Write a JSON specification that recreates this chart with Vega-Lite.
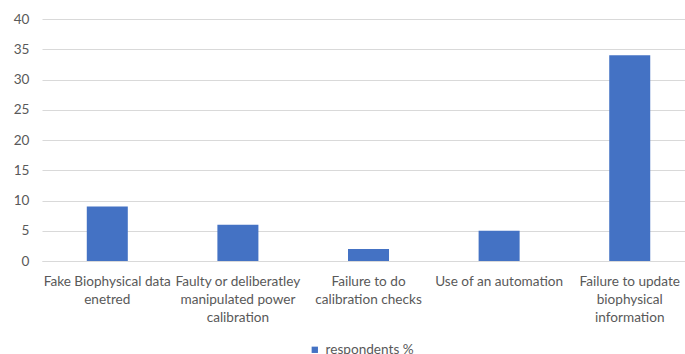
{
  "$schema": "https://vega.github.io/schema/vega-lite/v6.json",
  "width": 643,
  "height": 242,
  "autosize": {"type": "none"},
  "padding": {"left": 42, "top": 19, "right": 0, "bottom": 93},
  "background": "white",
  "data": {
    "values": [
      {"cause": "Fake Biophysical data enetred", "label": "Fake Biophysical data|enetred", "value": 9, "series": "respondents %"},
      {"cause": "Faulty or deliberatley manipulated power calibration", "label": "Faulty or deliberatley|manipulated power|calibration", "value": 6, "series": "respondents %"},
      {"cause": "Failure to do calibration checks", "label": "Failure to do|calibration checks", "value": 2, "series": "respondents %"},
      {"cause": "Use of an automation", "label": "Use of an automation", "value": 5, "series": "respondents %"},
      {"cause": "Failure to update biophysical information", "label": "Failure to update|biophysical|information", "value": 34, "series": "respondents %"}
    ]
  },
  "mark": {"type": "bar"},
  "encoding": {
    "x": {
      "field": "label",
      "type": "nominal",
      "sort": null,
      "scale": {"paddingInner": 0.686, "paddingOuter": 0.3045, "align": 0.563},
      "axis": {
        "title": null,
        "labelAngle": 0,
        "labelExpr": "split(datum.value, '|')",
        "labelFont": "Lato",
        "labelFontSize": 13.6,
        "labelColor": "#595959",
        "labelLineHeight": 18,
        "labelPadding": 13,
        "labelLimit": 200,
        "ticks": false,
        "domainColor": "#d9d9d9",
        "domainWidth": 1.2
      }
    },
    "y": {
      "field": "value",
      "type": "quantitative",
      "scale": {"domain": [0, 40], "nice": false},
      "axis": {
        "title": null,
        "values": [0, 5, 10, 15, 20, 25, 30, 35, 40],
        "domain": false,
        "ticks": false,
        "labelFont": "Lato",
        "labelFontSize": 13.6,
        "labelColor": "#595959",
        "labelPadding": 13,
        "gridColor": "#d9d9d9",
        "gridWidth": 1.2
      }
    },
    "color": {
      "field": "series",
      "type": "nominal",
      "scale": {"range": ["#4472C4"]},
      "legend": {
        "title": null,
        "orient": "none",
        "legendX": 266,
        "legendY": 324,
        "symbolType": "square",
        "symbolSize": 40,
        "symbolOpacity": 1,
        "labelFont": "Lato",
        "labelFontSize": 13.6,
        "labelColor": "#595959",
        "labelOffset": 4
      }
    }
  },
  "config": {"view": {"stroke": null}}
}
